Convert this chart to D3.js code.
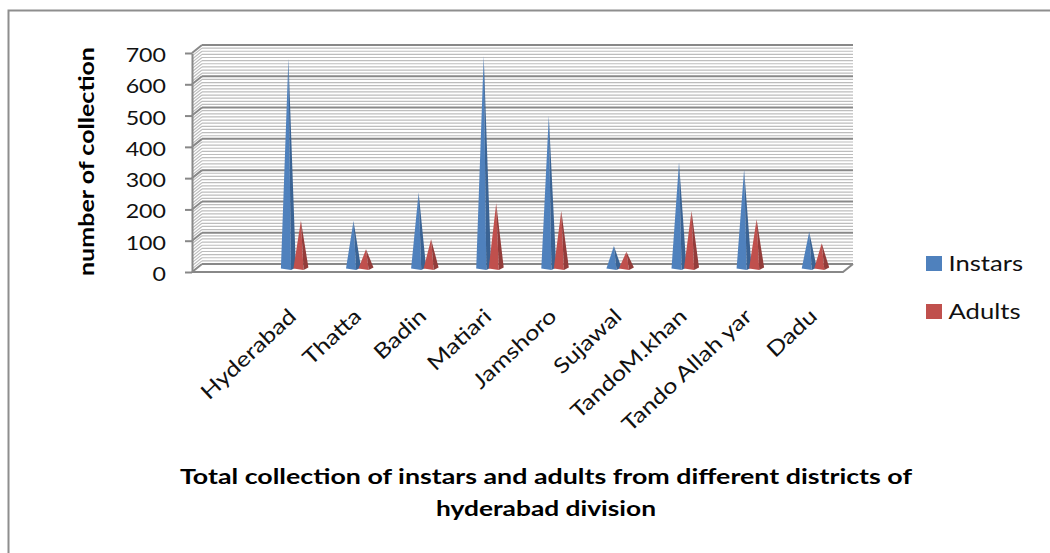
<!DOCTYPE html>
<html>
<head>
<meta charset="utf-8">
<script src="https://cdn.jsdelivr.net/npm/d3@7"></script>
<style>
  body { margin: 0; background: #fff; }
  svg { display: block; font-family: Lato, "Open Sans", sans-serif; }
</style>
</head>
<body>
<svg></svg>
<script>
const width = 1050;
const height = 553;

// data (first slot is an empty category)
const categories = ["", "Hyderabad", "Thatta", "Badin", "Matiari", "Jamshoro", "Sujawal", "TandoM.khan", "Tando Allah yar", "Dadu"];
const instars = [null, 670, 150, 241, 678, 486, 70, 337, 315, 116];
const adults = [null, 151, 60, 92, 207, 182, 52, 182, 156, 79];
const seriesNames = ["Instars", "Adults"];
const yTicks = [0, 100, 200, 300, 400, 500, 600, 700];

const colors = { Instars: ["#4F81BD", "#3A6394"], Adults: ["#C0504D", "#933C3A"] };
const stretch = 1.25; // reference font runs wide

const svg = d3.select("svg").attr("width", width).attr("height", height);

// outer chart border
svg.append("rect")
  .attr("x", 8.5).attr("y", 10.5)
  .attr("width", 1100).attr("height", 600)
  .attr("fill", "none").attr("stroke", "#8e8e8e").attr("stroke-width", 2);

// 3d box: front plane and depth offset
const depth = { dx: 10, dy: -8 };
const x = d3.scaleBand().domain(categories).range([192, 843]);
const y = d3.scaleLinear().domain([0, 700]).range([272, 53]);

const minor = d3.range(0, 701, 10);

// back wall + side wall gridlines
const grid = svg.append("g");
minor.forEach(v => {
  const major = v % 100 === 0;
  const yb = y(v) + depth.dy;
  grid.append("line")
    .attr("x1", x.range()[0] + depth.dx).attr("x2", x.range()[1] + depth.dx)
    .attr("y1", yb).attr("y2", yb)
    .attr("stroke", major ? "#888" : "#bdbdbd")
    .attr("stroke-width", major ? 2 : 1.2);
  grid.append("line")
    .attr("x1", x.range()[0]).attr("y1", y(v))
    .attr("x2", x.range()[0] + depth.dx).attr("y2", yb)
    .attr("stroke", major ? "#888" : "#bdbdbd")
    .attr("stroke-width", major ? 2 : 1.2);
});

// floor outline
const x0 = x.range()[0], x1 = x.range()[1];
svg.append("path")
  .attr("d", `M${x0},${y(0)}L${x1},${y(0)}L${x1 + depth.dx},${y(0) + depth.dy}`)
  .attr("fill", "none").attr("stroke", "#888").attr("stroke-width", 2);

// y axis
const yAxis = svg.append("g")
  .attr("transform", `translate(${x0},0)`)
  .call(d3.axisLeft(y).tickValues(yTicks).tickSize(7).tickSizeOuter(0));
yAxis.select(".domain").attr("stroke", "#888").attr("stroke-width", 2);
yAxis.selectAll(".tick line").attr("stroke", "#888").attr("stroke-width", 2);
yAxis.selectAll(".tick text")
  .attr("x", null).attr("dy", null)
  .attr("font-size", 19).attr("fill", "#111")
  .attr("font-family", "Lato, sans-serif")
  .attr("transform", `translate(-26,8.5) scale(1.22,1)`);

// cones (pyramids) at mid depth
const mid = { dx: depth.dx / 2, dy: depth.dy / 2 };
const half = 7.5, gap = 6.25;

function cone(g, cx, v, col) {
  const base = y(0) + mid.dy;
  const tip = y(v) + mid.dy;
  const fx = cx + half * 0.35;
  g.append("path")
    .attr("d", `M${cx},${tip}L${cx - half},${base + 0.5}L${fx},${base + 2}Z`)
    .attr("fill", col[0]);
  g.append("path")
    .attr("d", `M${cx},${tip}L${fx},${base + 2}L${cx + half},${base - 0.5}Z`)
    .attr("fill", col[1]);
}

const cones = svg.append("g");
categories.forEach((c, i) => {
  const cx = x(c) + x.bandwidth() / 2 + mid.dx;
  if (instars[i] != null) cone(cones, cx - gap, instars[i], colors.Instars);
  if (adults[i] != null) cone(cones, cx + gap, adults[i], colors.Adults);
});

// category labels
svg.append("g").selectAll("text")
  .data(categories)
  .join("text")
  .attr("transform", d => `translate(${x(d) + x.bandwidth() / 2 + mid.dx + 3},318) rotate(-43) scale(1.2,1)`)
  .attr("text-anchor", "end")
  .attr("font-size", 21)
  .attr("fill", "#111")
  .text(d => d);

// y axis title
svg.append("text")
  .attr("transform", "translate(93.5,161.5) rotate(-90)")
  .attr("text-anchor", "middle")
  .attr("font-size", 21.5)
  .attr("font-weight", "bold")
  .attr("textLength", 229)
  .attr("lengthAdjust", "spacingAndGlyphs")
  .text("number of collection");

// legend
seriesNames.forEach((s, i) => {
  const ly = 256 + i * 48;
  svg.append("rect")
    .attr("x", 926).attr("y", ly)
    .attr("width", 16).attr("height", 15)
    .attr("fill", colors[s][0]);
  svg.append("text")
    .attr("transform", `translate(948.5,${ly + 15}) scale(${stretch},1)`)
    .attr("font-size", 20.5)
    .attr("fill", "#111")
    .text(s);
});

// chart title
const titleLines = [
  ["Total collection of instars and adults from different districts of", 732],
  ["hyderabad division", 220]
];
titleLines.forEach(([t, len], i) => {
  svg.append("text")
    .attr("x", 546).attr("y", 484 + i * 32)
    .attr("text-anchor", "middle")
    .attr("font-size", 20)
    .attr("font-weight", "bold")
    .attr("textLength", len)
    .attr("lengthAdjust", "spacingAndGlyphs")
    .text(t);
});
</script>
</body>
</html>
